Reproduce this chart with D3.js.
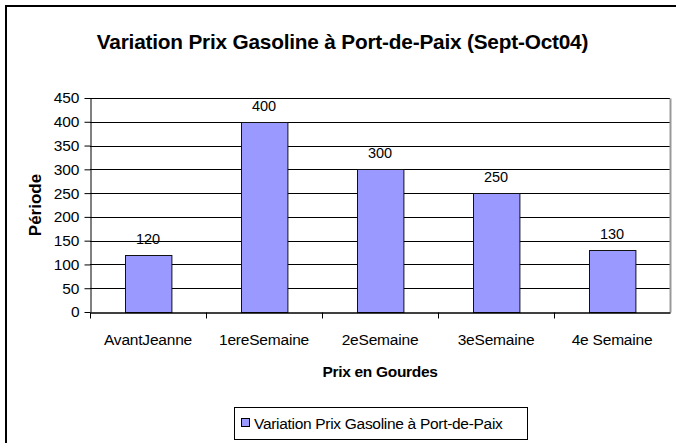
<!DOCTYPE html>
<html>
<head>
<meta charset="utf-8">
<script src="https://cdn.jsdelivr.net/npm/d3@7"></script>
<style>
  body { margin: 0; background: #fff; }
  svg { display: block; font-family: "Liberation Sans", Arial, sans-serif; }
</style>
</head>
<body>
<script>
const categories = ["AvantJeanne", "1ereSemaine", "2eSemaine", "3eSemaine", "4e Semaine"];
const prix = [120, 400, 300, 250, 130];
const yTicks = [0, 50, 100, 150, 200, 250, 300, 350, 400, 450];

const width = 676;
const height = 443;
const marginTop = 98;
const marginRight = 6;
const marginBottom = 131;
const marginLeft = 90;

const svg = d3.select("body").append("svg")
    .attr("width", width)
    .attr("height", height)
    .attr("viewBox", [0, 0, width, height]);

// outer frame (right and bottom fall outside the picture)
svg.append("rect")
    .attr("x", 6).attr("y", 6)
    .attr("width", width).attr("height", height)
    .attr("fill", "#fff")
    .attr("stroke", "#000")
    .attr("stroke-width", 2);

const x = d3.scaleBand()
    .domain(categories)
    .range([marginLeft, width - marginRight])
    .paddingInner(0.6)
    .paddingOuter(0.3);

const band = d3.scaleBand()
    .domain(categories)
    .range([marginLeft, width - marginRight]);

const y = d3.scaleLinear()
    .domain([0, 450])
    .range([height - marginBottom, marginTop]);

// gridlines
svg.append("g")
    .selectAll("line")
    .data(yTicks.slice(1))
    .join("line")
    .attr("x1", marginLeft)
    .attr("x2", width - marginRight)
    .attr("y1", d => Math.round(y(d)) + 0.5)
    .attr("y2", d => Math.round(y(d)) + 0.5)
    .attr("stroke", "#000");

// plot area right border
svg.append("line")
    .attr("x1", width - marginRight + 0.5)
    .attr("x2", width - marginRight + 0.5)
    .attr("y1", Math.round(y(450)) + 0.5)
    .attr("y2", Math.round(y(0)) + 0.5)
    .attr("stroke", "#999")
    .attr("stroke-width", 2);

// bars
svg.append("g")
    .selectAll("rect")
    .data(prix)
    .join("rect")
    .attr("x", (d, i) => Math.round(x(categories[i])) + 0.5)
    .attr("y", d => Math.round(y(d)) + 0.5)
    .attr("width", x.bandwidth())
    .attr("height", d => Math.round(y(0)) - Math.round(y(d)))
    .attr("fill", "#9999ff")
    .attr("stroke", "#111")
    .attr("stroke-width", 1);

// value labels
svg.append("g")
    .selectAll("text")
    .data(prix)
    .join("text")
    .attr("x", (d, i) => x(categories[i]) + x.bandwidth() / 2)
    .attr("y", d => y(d) - 11)
    .attr("text-anchor", "middle")
    .attr("font-size", 14.5)
    .attr("fill", "#000")
    .text(d => d);

// y axis
const yAxis = svg.append("g")
    .attr("transform", `translate(${marginLeft + 0.5},0)`)
    .call(d3.axisLeft(y).tickValues(yTicks).tickSize(6).tickSizeOuter(0).tickPadding(5));
yAxis.select(".domain").attr("stroke", "#000");
yAxis.selectAll(".tick line").attr("stroke", "#000");
yAxis.selectAll(".tick text")
    .attr("font-size", 15.5)
    .attr("font-family", "Liberation Sans, Arial, sans-serif")
    .attr("fill", "#000");

// x axis
const xAxis = svg.append("g")
    .attr("transform", `translate(0,${Math.round(y(0)) + 0.5})`)
    .call(d3.axisBottom(band).tickSize(0).tickSizeOuter(0).tickPadding(21));
xAxis.select(".domain").attr("stroke", "#000").attr("stroke-width", 1.5);
xAxis.selectAll(".tick text")
    .attr("font-size", 15.5)
    .attr("letter-spacing", -0.2)
    .attr("font-family", "Liberation Sans, Arial, sans-serif")
    .attr("fill", "#000");
xAxis.selectAll(".sep")
    .data(categories)
    .join("line")
    .attr("class", "sep")
    .attr("x1", d => Math.round(band(d)) + 0.5)
    .attr("x2", d => Math.round(band(d)) + 0.5)
    .attr("y1", 0)
    .attr("y2", 6)
    .attr("stroke", "#000");

// title
svg.append("text")
    .attr("x", 342.5)
    .attr("y", 49)
    .attr("text-anchor", "middle")
    .attr("font-size", 20.8)
    .attr("font-weight", "bold")
    .attr("letter-spacing", -0.2)
    .text("Variation Prix Gasoline à Port-de-Paix (Sept-Oct04)");

// axis titles
svg.append("text")
    .attr("x", (marginLeft + width - marginRight) / 2)
    .attr("y", 377)
    .attr("text-anchor", "middle")
    .attr("font-size", 15.5)
    .attr("font-weight", "bold")
    .attr("letter-spacing", -0.3)
    .text("Prix en Gourdes");

svg.append("text")
    .attr("transform", `translate(41,${(y(0) + y(450)) / 2}) rotate(-90)`)
    .attr("text-anchor", "middle")
    .attr("font-size", 17)
    .attr("font-weight", "bold")
    .text("Période");

// legend
const legend = svg.append("g");
legend.append("rect")
    .attr("x", 234.5).attr("y", 407.5)
    .attr("width", 293).attr("height", 32)
    .attr("fill", "#fff")
    .attr("stroke", "#000");
legend.append("rect")
    .attr("x", 241.5).attr("y", 418.5)
    .attr("width", 8).attr("height", 8)
    .attr("fill", "#9999ff")
    .attr("stroke", "#000");
legend.append("text")
    .attr("x", 254)
    .attr("y", 429)
    .attr("font-size", 15.5)
    .attr("letter-spacing", -0.3)
    .text("Variation Prix Gasoline à Port-de-Paix");
</script>
</body>
</html>
